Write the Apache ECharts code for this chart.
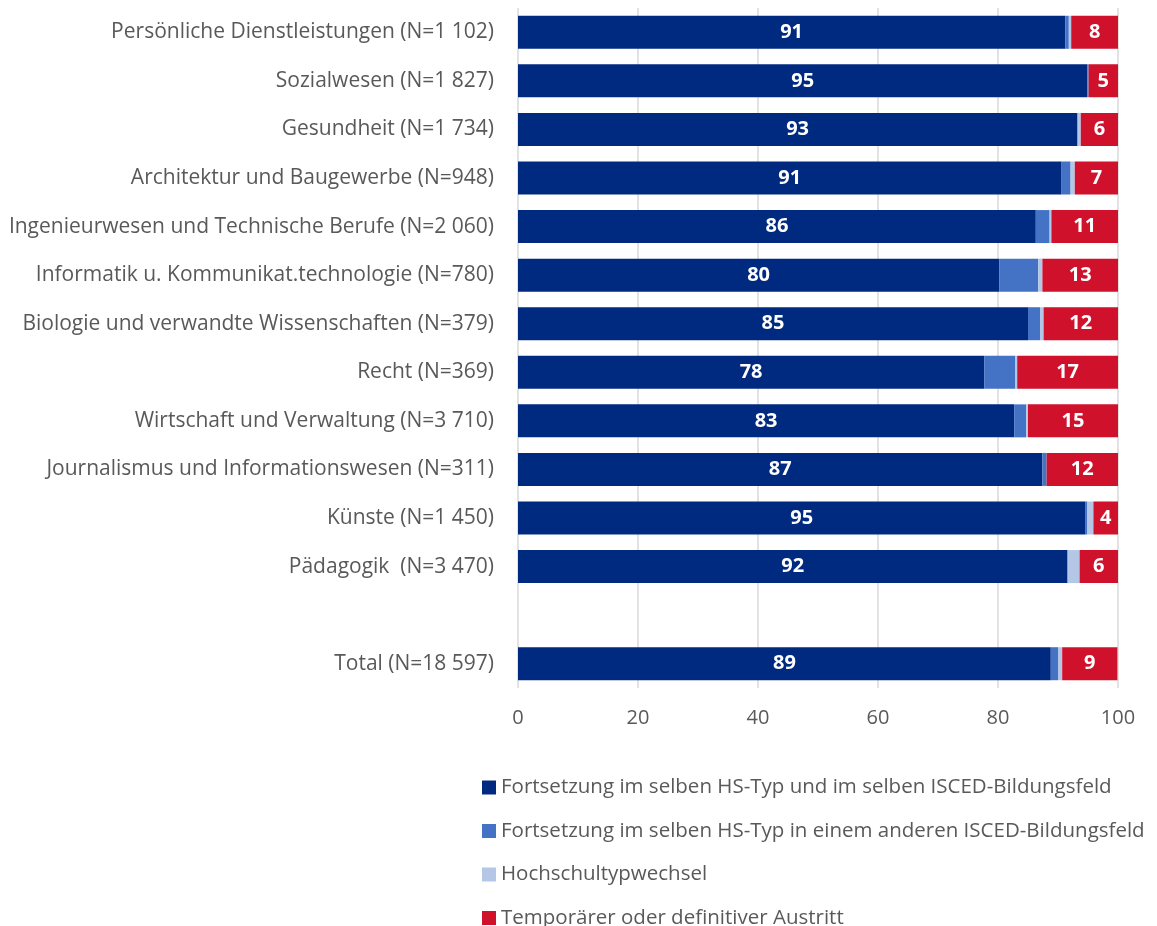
<!DOCTYPE html>
<html>
<head>
<meta charset="utf-8">
<script src="https://cdn.jsdelivr.net/npm/echarts@6/dist/echarts.min.js"></script>
<style>
    html, body { margin: 0; padding: 0; background: #fff; }
    #chart { width: 1157px; height: 926px; }
</style>
</head>
<body>
<div id="chart"></div>
<script>
// Categories (top to bottom), empty slot separates the total
const categories = [
    'Persönliche Dienstleistungen (N=1 102)',
    'Sozialwesen (N=1 827)',
    'Gesundheit (N=1 734)',
    'Architektur und Baugewerbe (N=948)',
    'Ingenieurwesen und Technische Berufe (N=2 060)',
    'Informatik u. Kommunikat.technologie (N=780)',
    'Biologie und verwandte Wissenschaften (N=379)',
    'Recht (N=369)',
    'Wirtschaft und Verwaltung (N=3 710)',
    'Journalismus und Informationswesen (N=311)',
    'Künste (N=1 450)',
    'Pädagogik  (N=3 470)',
    '',
    'Total (N=18 597)'
];

const seriesNames = [
    'Fortsetzung im selben HS-Typ und im selben ISCED-Bildungsfeld',
    'Fortsetzung im selben HS-Typ in einem anderen ISCED-Bildungsfeld',
    'Hochschultypwechsel',
    'Temporärer oder definitiver Austritt'
];

const sameField   = [91.2, 94.9, 93.2, 90.6, 86.3, 80.2, 85.0, 77.7, 82.7, 87.4, 94.6, 91.6, '-', 88.8];
const otherField  = [0.6, 0.2, 0.1, 1.5, 2.3, 6.5, 2.0, 5.2, 2.0, 0.7, 0.3, 0.0, '-', 1.2];
const typeChange  = [0.4, 0.0, 0.5, 0.7, 0.3, 0.7, 0.6, 0.3, 0.3, 0.0, 1.0, 2.0, '-', 0.7];
const exitValues  = [7.8, 4.9, 6.2, 7.2, 11.1, 12.6, 12.4, 16.8, 15.0, 11.9, 4.1, 6.4, '-', 9.2];

const colors = ['#002a80', '#4472c4', '#b4c7e7', '#d0112b'];
const fontFamily = '"Open Sans", sans-serif';

const chart = echarts.init(document.getElementById('chart'));

function makeSeries(name, data, color, showLabel) {
    return {
        name: name,
        type: 'bar',
        stack: 'total',
        data: data,
        barWidth: 33,
        itemStyle: { color: color },
        label: {
            show: showLabel,
            position: 'inside',
            color: '#fff',
            fontWeight: 'bold',
            fontSize: 20,
            fontFamily: fontFamily,
            formatter: p => Math.round(p.value)
        }
    };
}

const option = {
    animation: false,
    color: colors,
    grid: {
        left: 518,
        right: 39,
        top: 8,
        height: 680,
        containLabel: false
    },
    xAxis: {
        type: 'value',
        min: 0,
        max: 100,
        interval: 20,
        axisLine: { show: false },
        axisTick: { show: false },
        splitLine: { lineStyle: { color: '#d9d9d9', width: 1.5 } },
        axisLabel: {
            color: '#595959',
            fontSize: 20,
            fontFamily: fontFamily,
            margin: 20
        }
    },
    yAxis: {
        type: 'category',
        inverse: true,
        data: categories,
        axisLine: { show: false },
        axisTick: { show: false },
        axisLabel: {
            color: '#595959',
            fontSize: 21,
            fontFamily: fontFamily,
            margin: 24
        }
    },
    legend: {
        orient: 'vertical',
        left: 477,
        top: 772,
        height: 160,
        itemWidth: 14,
        itemHeight: 14,
        itemGap: 22.5,
        icon: 'rect',
        textStyle: {
            color: '#595959',
            fontSize: 20.5,
            fontFamily: fontFamily
        },
        data: seriesNames
    },
    series: [
        makeSeries(seriesNames[0], sameField, colors[0], true),
        makeSeries(seriesNames[1], otherField, colors[1], false),
        makeSeries(seriesNames[2], typeChange, colors[2], false),
        makeSeries(seriesNames[3], exitValues, colors[3], true)
    ]
};

chart.setOption(option);
</script>
</body>
</html>
